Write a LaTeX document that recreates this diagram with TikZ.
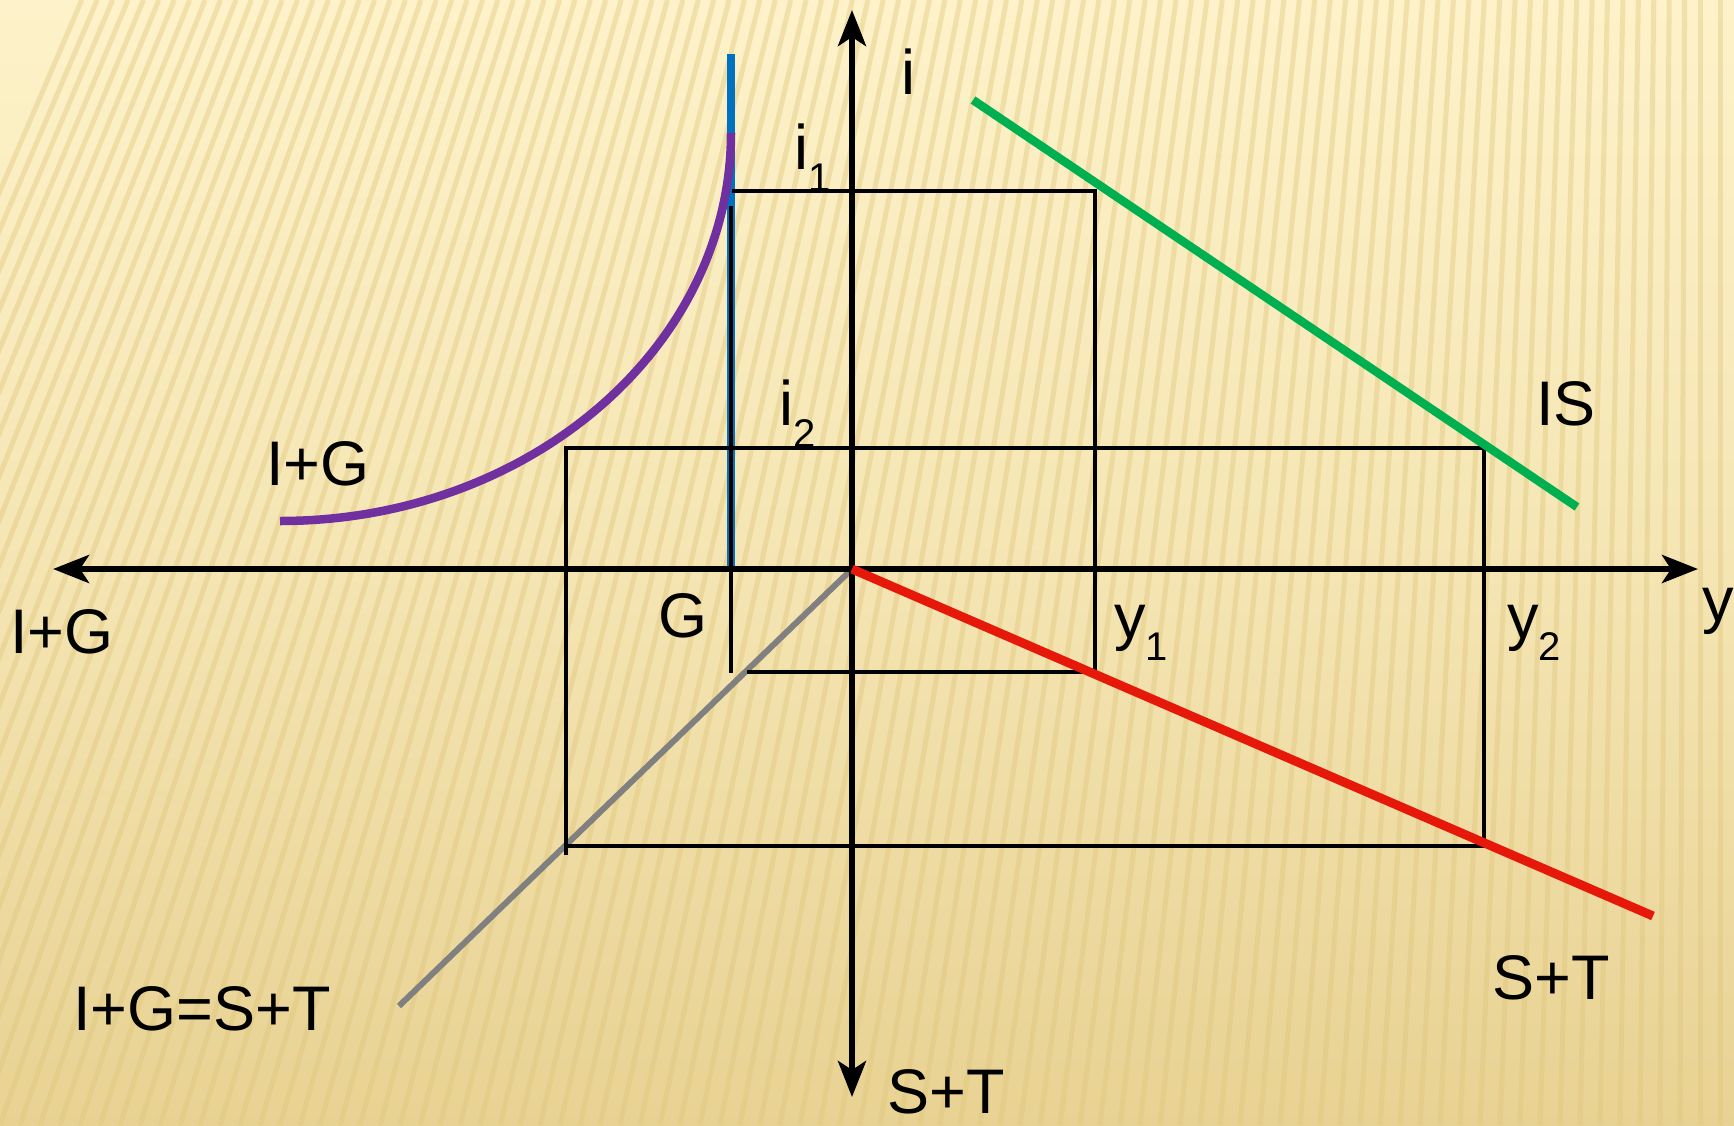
\documentclass[tikz,border=0pt]{standalone}
\usepackage{fontspec}
\setmainfont{Liberation Sans}
\usetikzlibrary{arrows.meta}

\definecolor{paperlight}{HTML}{FDF2C9}
\definecolor{paperdark}{HTML}{E8D293}
\definecolor{stripe}{HTML}{DFC57A}
\definecolor{isgreen}{HTML}{00B050}
\definecolor{stred}{HTML}{E5180A}
\definecolor{igpurple}{HTML}{7030A0}
\definecolor{gblue}{HTML}{0070C0}
\definecolor{eqgray}{HTML}{808080}

\newcommand{\lowsub}[1]{\raisebox{-0.35em}{\fontsize{40}{40}\selectfont #1}}

\begin{document}
\begin{tikzpicture}[
  x=1pt, y=-1pt,
  >={Stealth[length=36pt, width=28pt, inset=9pt]},
  axis/.style={<->, line width=6pt},
  guide/.style={line width=4.5pt, black},
  curve/.style={line width=8.5pt},
  lbl/.style={font=\fontsize{63}{70}\selectfont, inner sep=0pt}
]
\useasboundingbox (0,0) rectangle (1734,1125);

% Background
\shade[top color=paperlight, bottom color=paperdark, middle color=paperlight!60!paperdark]
  (0,0) rectangle (1734,1125);
\begin{scope}
  \clip (0,0) rectangle (1734,1125);
  \foreach \x in {-400,-380,...,1740} {
    \pgfmathsetmacro\topx{\x + max(0, 390*(1-\x/1700))}
    \draw[stripe, line width=5pt, opacity=0.4] (\topx,0) -- (\x,1125);
  }
\end{scope}

% Points
\coordinate (O) at (852,569);
\coordinate (ytip) at (1698,569);
\coordinate (igtip) at (53,569);
\coordinate (itip) at (852,10);
\coordinate (sttip) at (852,1097);

\coordinate (i1L) at (732,191);
\coordinate (i1R) at (1095,191);
\coordinate (y1B) at (1095,672);
\coordinate (y1L) at (747,672);
\coordinate (gTop) at (731,206);
\coordinate (gBot) at (731,673);

\coordinate (i2L) at (566,448);
\coordinate (i2R) at (1484,448);
\coordinate (y2B) at (1484,846);
\coordinate (igB) at (566,846);
\coordinate (igBend) at (566,855);

\coordinate (blueTop) at (731,54);
\coordinate (blueBot) at (731,569);
\coordinate (igStart) at (280,521);

\coordinate (isA) at (973,100);
\coordinate (isB) at (1577,507);
\coordinate (stB) at (1653,916);
\coordinate (eqB) at (399,1006);

% Colour curves
\draw[curve, gblue] (blueTop) -- (blueBot);
\draw[curve, igpurple] (igStart) arc[start angle=90, end angle=0, x radius=451, y radius=388];
\draw[line width=6pt, eqgray] (O) -- (eqB);

% Guide lines
\draw[guide] (gTop) -- (gBot);
\draw[guide] (i1L) -- (i1R) -- (y1B) -- (y1L);
\draw[guide] (igB) -- (i2L) -- (i2R) -- (y2B) -- (igB);
\draw[guide] (igB) -- (igBend);

% Axes
\draw[axis] (igtip) -- (ytip);
\draw[axis] (itip) -- (sttip);

\draw[line width=8.5pt, isgreen] (isA) -- (isB);
\draw[line width=9pt, stred] (O) -- (stB);

% Labels
\node[lbl, anchor=base west] (ilbl) at (901,94) {i};
\node[lbl, anchor=base west] (i1lbl) at (794,169) {i\lowsub{1}};
\node[lbl, anchor=base west] (i2lbl) at (779,425) {i\lowsub{2}};
\node[lbl] (islbl) at (1566,404) {IS};
\node[lbl] (igcurve) at (318,464) {I+G};
\node[lbl] (igaxis) at (62,632) {I+G};
\node[lbl] (glbl) at (683,616) {G};
\node[lbl, anchor=base west] (y1lbl) at (1114,638) {y\lowsub{1}};
\node[lbl, anchor=base west] (y2lbl) at (1507,638) {y\lowsub{2}};
\node[lbl, anchor=base west] (ylbl) at (1702,621) {y};
\node[lbl] (eqlbl) at (202,1009) {I+G=S+T};
\node[lbl] (stline) at (1551,978) {S+T};
\node[lbl] (staxis) at (946,1092) {S+T};

\end{tikzpicture}
\end{document}
